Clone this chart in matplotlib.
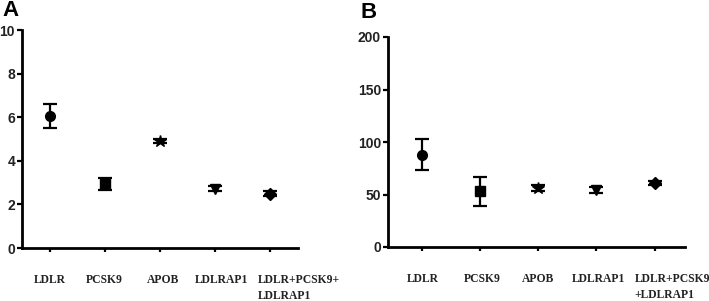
import matplotlib
matplotlib.use('Agg')
import matplotlib.pyplot as plt

# ---- data ----
genes_a = ['LDLR', 'PCSK9', 'APOB', 'LDLRAP1', 'LDLR+PCSK9+\nLDLRAP1']
genes_b = ['LDLR', 'PCSK9', 'APOB', 'LDLRAP1', 'LDLR+PCSK9\n+LDLRAP1']
markers = ['o', 's', '*', 'v', 'D']
marker_sizes = [7, 7, 9, 7, 6]

mean_a = [6.05, 2.95, 4.9, 2.72, 2.5]
err_a = [0.55, 0.28, 0.1, 0.12, 0.12]

mean_b = [88, 53, 56, 54, 61]
err_b = [15, 13.5, 3, 3, 2]

W, H = 709, 301
fig = plt.figure(figsize=(W / 100, H / 100), dpi=100)


def panel(x0, x1, ytop, ybot, xlim, ylim, yticks, labels, means, errs, shifts,
          letter, lx, ly):
    ax = fig.add_axes([x0 / W, 1 - ybot / H, (x1 - x0) / W, (ybot - ytop) / H])
    for i in range(len(means)):
        ax.errorbar(i, means[i], yerr=errs[i], fmt=markers[i], ms=marker_sizes[i],
                    color='black', ecolor='black', elinewidth=1.6, capsize=5, capthick=1.6)
    ax.set_xlim(*xlim)
    ax.set_ylim(*ylim)
    ax.set_yticks(yticks)
    ax.set_yticklabels([str(t) for t in yticks], fontsize=10, fontweight='bold',
                       family='Liberation Sans', color='#222222')
    ax.set_xticks(range(len(labels)))
    ax.set_xticklabels([])
    # category labels sit a little off their ticks in the original; the two-line one is left-aligned
    for i, (lab, dx) in enumerate(zip(labels, shifts)):
        two = '\n' in lab
        ax.annotate(lab, (i, 0), xycoords=('data', 'axes fraction'),
                    xytext=(dx * 0.72, -19), textcoords='offset points',
                    ha='left' if two else 'center', va='top', multialignment='left',
                    fontsize=8.4, fontweight='bold', family='Liberation Serif',
                    color='#222222', linespacing=1.45, annotation_clip=False)
    ax.tick_params(axis='x', length=3, width=1.6)
    ax.tick_params(axis='y', length=3.5, width=1.6, pad=1.5)
    for s in ['top', 'right']:
        ax.spines[s].set_visible(False)
    for s in ['left', 'bottom']:
        ax.spines[s].set_linewidth(2)
    fig.text(lx / W, 1 - ly / H, letter, fontsize=16, fontweight='bold',
             family='Liberation Sans', ha='left', va='center')
    return ax


panel(22, 298, 30, 248, (-0.51, 4.51), (0, 10), [0, 2, 4, 6, 8, 10],
      genes_a, mean_a, err_a, [0, -1, 3, 7, -12], 'A', 2, 11)
panel(388, 685, 37, 247, (-0.58, 4.52), (0, 200), [0, 50, 100, 150, 200],
      genes_b, mean_b, err_b, [1, 2, 0, 2, -20], 'B', 360, 12)

fig.savefig('out.png', dpi=100)
